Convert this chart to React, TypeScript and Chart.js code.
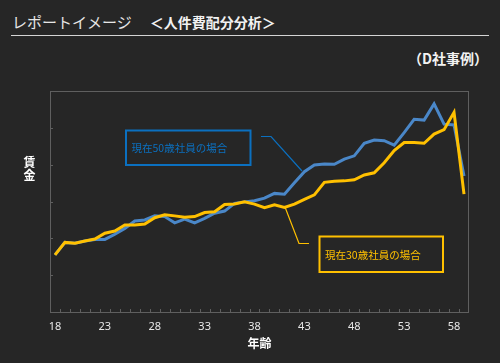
import React, { useEffect, useRef } from "react";
import { Chart, registerables } from "chart.js";

Chart.register(...registerables);

const ages: number[] = [
  18, 19, 20, 21, 22, 23, 24, 25, 26, 27, 28, 29, 30, 31, 32, 33, 34, 35, 36, 37, 38,
  39, 40, 41, 42, 43, 44, 45, 46, 47, 48, 49, 50, 51, 52, 53, 54, 55, 56, 57, 58, 59,
];

// 現在50歳社員の場合
const wage50: number[] = [
  155, 189, 187, 193, 197, 197, 211, 227, 247, 250, 261, 259, 242, 252, 242, 254, 268, 274, 295, 299, 302,
  309, 322, 320, 351, 381, 399, 402, 401, 415, 424, 458, 467, 465, 453, 487, 523, 521, 565, 510, 508, 369,
];

// 現在30歳社員の場合
const wage30: number[] = [
  155, 189, 187, 193, 198, 214, 220, 236, 236, 239, 256, 264, 261, 257, 259, 270, 272, 292, 293, 299, 293,
  283, 291, 284, 293, 306, 318, 352, 355, 356, 359, 372, 378, 405, 438, 460, 460, 458, 483, 495, 542, 320,
];

const yTicks = { min: 0, max: 600, step: 100 };

const label50 = "現在50歳社員の場合";
const label30 = "現在30歳社員の場合";

const BG = "#262626";
const FRAME = "#5f5f5f";
const BLUE_LINE = "#4a87c8";
const BLUE_NOTE = "#0b70c0";
const YELLOW = "#ffc000";
const JP = '"Noto Sans CJK JP", "Noto Sans", sans-serif';

const decorPlugin = {
  id: "decor",
  beforeDatasetsDraw(chart: any) {
    const { ctx, chartArea } = chart;
    const { left, top, right, bottom } = chartArea;
    const xs = chart.scales.x;
    const ys = chart.scales.y;
    ctx.save();
    ctx.strokeStyle = FRAME;
    ctx.lineWidth = 1;
    ctx.strokeRect(Math.round(left) + 0.5, Math.round(top) + 0.5, Math.round(right - left) - 1, Math.round(bottom - top));
    const n = ages.length;
    const half = (xs.getPixelForValue(1) - xs.getPixelForValue(0)) / 2;
    ctx.beginPath();
    for (let i = 1; i < n; i++) {
      const x = Math.round(xs.getPixelForValue(i) - half) + 0.5;
      ctx.moveTo(x, Math.round(bottom));
      ctx.lineTo(x, Math.round(bottom) - 3);
    }
    ys.ticks.forEach((t: any) => {
      if (t.value === yTicks.min || t.value === yTicks.max) return;
      const y = Math.round(ys.getPixelForValue(t.value)) + 0.5;
      ctx.moveTo(Math.round(left), y);
      ctx.lineTo(Math.round(left) + 3, y);
    });
    ctx.stroke();
    ctx.restore();
  },
  afterDatasetsDraw(chart: any) {
    const { ctx, chartArea } = chart;
    ctx.save();
    ctx.fillStyle = "#ffffff";
    ctx.font = `bold 12px ${JP}`;
    ctx.textAlign = "center";
    ctx.textBaseline = "middle";
    ctx.fillText("賃", 29.5, 162);
    ctx.fillText("金", 29.5, 175);
    ctx.fillText("年齢", (chartArea.left + chartArea.right) / 2, 343);

    ctx.lineWidth = 1.2;
    ctx.strokeStyle = BLUE_NOTE;
    ctx.beginPath();
    ctx.moveTo(261, 136.5);
    ctx.lineTo(271, 136.5);
    ctx.lineTo(302, 171);
    ctx.stroke();
    ctx.lineWidth = 2;
    ctx.strokeRect(126, 130.5, 124.5, 34.5);
    ctx.fillStyle = BLUE_NOTE;
    ctx.font = `10.5px ${JP}`;
    ctx.textAlign = "left";
    ctx.fillText(label50, 131.5, 148.5);

    ctx.lineWidth = 1.2;
    ctx.strokeStyle = YELLOW;
    ctx.beginPath();
    ctx.moveTo(285, 207);
    ctx.lineTo(299, 243.5);
    ctx.lineTo(309, 243.5);
    ctx.stroke();
    ctx.lineWidth = 2;
    ctx.strokeRect(319.5, 236.5, 123.5, 35.5);
    ctx.fillStyle = YELLOW;
    ctx.fillText(label30, 325, 255);
    ctx.restore();
  },
};

function ChartCanvas() {
  const ref = useRef<HTMLCanvasElement | null>(null);
  useEffect(() => {
    if (!ref.current) return;
    const chart = new Chart(ref.current, {
      type: "line",
      data: {
        labels: ages.map(String),
        datasets: [
          {
            label: label30,
            data: wage30,
            borderColor: YELLOW,
            borderWidth: 3,
            pointRadius: 0,
            tension: 0,
            fill: false,
          },
          {
            label: label50,
            data: wage50,
            borderColor: BLUE_LINE,
            borderWidth: 3,
            pointRadius: 0,
            tension: 0,
            fill: false,
          },
        ],
      },
      options: {
        animation: false,
        responsive: false,
        devicePixelRatio: 1,
        layout: { padding: { top: 91, right: 31, left: 0, bottom: 0 } },
        plugins: {
          legend: { display: false },
          tooltip: { enabled: false },
          title: { display: false },
        },
        scales: {
          x: {
            type: "category",
            offset: true,
            grid: { display: false, drawTicks: false },
            border: { display: false },
            ticks: {
              autoSkip: false,
              maxRotation: 0,
              minRotation: 0,
              padding: 8,
              color: "#e8e8e8",
              font: { family: '"Noto Sans", sans-serif', size: 11 },
              callback: (_v: any, i: number) => (i % 5 === 0 ? String(ages[i]) : ""),
            },
            afterFit: (s: any) => {
              s.height = 51;
            },
          },
          y: {
            min: yTicks.min,
            max: yTicks.max,
            grid: { display: false, drawTicks: false },
            border: { display: false },
            ticks: { display: false, stepSize: yTicks.step },
            afterFit: (s: any) => {
              s.width = 50;
            },
          },
        },
      },
      plugins: [decorPlugin],
    });
    return () => chart.destroy();
  }, []);
  return (
    <canvas
      ref={ref}
      width={500}
      height={363}
      style={{ position: "absolute", left: 0, top: 0, width: 500, height: 363 }}
    />
  );
}

export default function App() {
  return (
    <div
      style={{
        position: "fixed",
        left: 0,
        top: 0,
        width: 500,
        height: 363,
        background: BG,
        overflow: "hidden",
        fontFamily: JP,
      }}
    >
      <div
        style={{
          position: "absolute",
          left: 12,
          top: 13,
          fontSize: 15,
          lineHeight: "18px",
          color: "#e6e6e6",
          whiteSpace: "nowrap",
        }}
      >
        <span>レポートイメージ</span>
        <span style={{ fontWeight: "bold", fontSize: 14, marginLeft: 18, color: "#f2f2f2" }}>＜人件費配分分析＞</span>
      </div>
      <div
        style={{
          position: "absolute",
          left: 11,
          top: 35,
          width: 478,
          height: 1,
          background: "#d4d4d4",
        }}
      />
      <div
        style={{
          position: "absolute",
          right: 12,
          top: 50,
          fontSize: 14,
          lineHeight: "16px",
          fontWeight: "bold",
          color: "#f2f2f2",
          whiteSpace: "nowrap",
        }}
      >
        （D社事例）
      </div>
      <ChartCanvas />
    </div>
  );
}
